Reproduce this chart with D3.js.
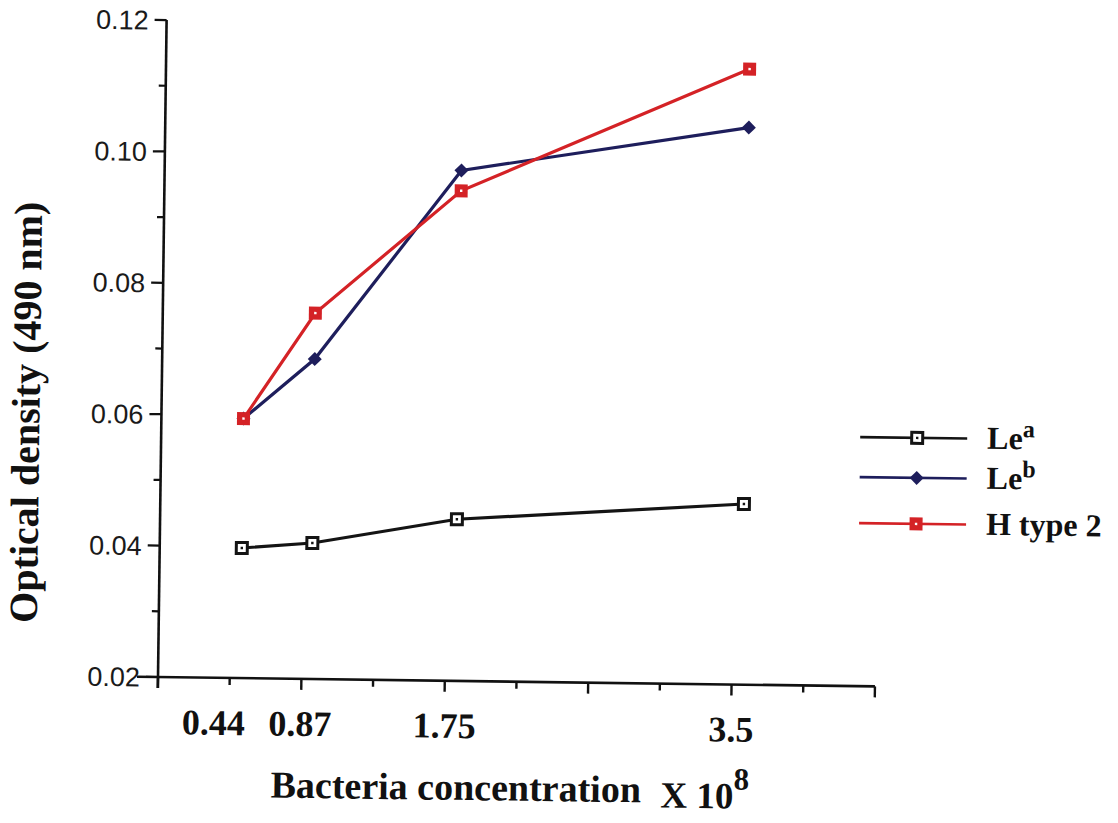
<!DOCTYPE html>
<html>
<head>
<meta charset="utf-8">
<script src="https://cdn.jsdelivr.net/npm/d3@7/dist/d3.min.js"></script>
<style>
  html, body { margin: 0; padding: 0; background: #ffffff; }
  svg { display: block; }
  .serif { font-family: "Liberation Serif", "Times New Roman", serif; font-weight: bold; fill: #111; }
  .sans { font-family: "Liberation Sans", Arial, sans-serif; fill: #1a1a1a; }
</style>
</head>
<body>
<svg id="chart" width="1118" height="823"></svg>
<script>
// Bacterial concentration (x 10^8) and optical density readings at 490 nm
const concentrations = [0.44, 0.87, 1.75, 3.5];
const concentrationLabels = ["0.44", "0.87", "1.75", "3.5"];
const leA = [0.0398, 0.0407, 0.0446, 0.0475];
const leB = [0.0595, 0.0687, 0.0977, 0.1048];
const hType2 = [0.0595, 0.0757, 0.0946, 0.1137];
const yTickValues = [0.02, 0.04, 0.06, 0.08, 0.10, 0.12];
const yTickLabels = ["0.02", "0.04", "0.06", "0.08", "0.10", "0.12"];
const seriesNames = ["Le", "Le", "H type 2"];
const seriesSup = ["a", "b", ""];

const svg = d3.select("#chart");
const origin = { x: 158, y: 677 };

// whole plate sits at a slight tilt
const g = svg.append("g").attr("transform", `rotate(0.75, ${origin.x}, ${origin.y})`);

const x = d3.scaleLinear().domain([0, 4.375]).range([168, 885]);
const y = d3.scaleLinear().domain([0.02, 0.12]).range([origin.y, 20]);

const xStep = 4.375 / 10;
const xTicks = d3.range(0, 11).map(k => k * xStep);

// ---- x axis ruler (ticks run a little left of the plotted columns)
const rulerShift = -10;
const xAxisG = g.append("g").attr("transform", `translate(${rulerShift},${origin.y})`);
xAxisG.append("line")
  .attr("x1", x(0) - 21).attr("x2", x(4.375))
  .attr("y1", 0).attr("y2", 0)
  .attr("stroke", "#111").attr("stroke-width", 2.6);
xAxisG.selectAll("line.xt").data(xTicks).join("line")
  .attr("class", "xt")
  .attr("x1", d => x(d)).attr("x2", d => x(d))
  .attr("y1", 0).attr("y2", (d, i) => i % 2 === 0 ? 11 : 7)
  .attr("stroke", "#111").attr("stroke-width", 2.4);
xAxisG.selectAll("text.xl").data(concentrations).join("text")
  .attr("class", "xl serif")
  .attr("x", d => x(d))
  .attr("dx", (d, i) => i === 0 ? -16 : 0)
  .attr("y", 57)
  .attr("text-anchor", "middle")
  .style("font-size", "36px")
  .text((d, i) => concentrationLabels[i]);

// ---- y axis
const yAxisG = g.append("g").attr("transform", `translate(${origin.x},0)`);
yAxisG.append("line")
  .attr("x1", 0).attr("x2", 0)
  .attr("y1", y(0.12)).attr("y2", origin.y + 11)
  .attr("stroke", "#111").attr("stroke-width", 2.6);
const yMinor = d3.range(0.03, 0.12, 0.02);
yAxisG.selectAll("line.ym").data(yMinor).join("line")
  .attr("class", "ym")
  .attr("x1", -7).attr("x2", 0)
  .attr("y1", d => y(d)).attr("y2", d => y(d))
  .attr("stroke", "#111").attr("stroke-width", 2.2);
yAxisG.selectAll("line.yM").data(yTickValues).join("line")
  .attr("class", "yM")
  .attr("x1", -12).attr("x2", 0)
  .attr("y1", d => y(d)).attr("y2", d => y(d))
  .attr("stroke", "#111").attr("stroke-width", 2.2);
yAxisG.selectAll("text.yl").data(yTickValues).join("text")
  .attr("class", "yl sans")
  .attr("x", -18)
  .attr("y", d => y(d))
  .attr("dy", "0.36em")
  .attr("text-anchor", "end")
  .style("font-size", "27px")
  .text((d, i) => yTickLabels[i]);

// ---- axis titles
g.append("text")
  .attr("class", "serif")
  .attr("transform", "translate(36,414) rotate(-90)")
  .attr("text-anchor", "middle")
  .style("font-size", "40px")
  .text("Optical density (490 nm)");

g.append("text")
  .attr("class", "serif")
  .attr("x", 272).attr("y", 796)
  .style("font-size", "38px")
  .text("Bacteria concentration");

const xPow = g.append("text")
  .attr("class", "serif")
  .attr("x", 662).attr("y", 801)
  .style("font-size", "37px");
xPow.append("tspan").text("X 10");
xPow.append("tspan").attr("dy", -19).style("font-size", "31px").text("8");

// ---- series
const series = [
  { values: leA, color: "#141414", marker: "openSquare" },
  { values: leB, color: "#1e1e5c", marker: "diamond" },
  { values: hType2, color: "#d42226", marker: "redSquare" }
];

const line = d3.line().x(d => x(d[0])).y(d => y(d[1]));

function drawMarker(sel, type, color) {
  if (type === "openSquare") {
    sel.append("rect").attr("x", -5.5).attr("y", -5.5).attr("width", 11).attr("height", 11)
      .attr("fill", "#fff").attr("stroke", color).attr("stroke-width", 3);
    sel.append("rect").attr("x", -1.2).attr("y", -1.2).attr("width", 2.4).attr("height", 2.4)
      .attr("fill", color);
  } else if (type === "diamond") {
    sel.append("path").attr("d", "M0,-7L7,0L0,7L-7,0Z").attr("fill", color);
  } else {
    sel.append("rect").attr("x", -6.5).attr("y", -6.5).attr("width", 13).attr("height", 13)
      .attr("fill", color);
    sel.append("rect").attr("x", -1.2).attr("y", -1.2).attr("width", 2.4).attr("height", 2.4)
      .attr("fill", "#fff");
  }
}

const plot = g.append("g");
series.forEach(s => {
  const pts = concentrations.map((c, i) => [c, s.values[i]]);
  plot.append("path").datum(pts)
    .attr("d", line)
    .attr("fill", "none")
    .attr("stroke", s.color)
    .attr("stroke-width", 3.2);
  plot.append("g").selectAll("g").data(pts).join("g")
    .attr("transform", d => `translate(${x(d[0])},${y(d[1])})`)
    .each(function () { drawMarker(d3.select(this), s.marker, s.color); });
});

// ---- legend
const legendRows = [428, 468, 514];
const legend = g.append("g");
series.forEach((s, i) => {
  const row = legend.append("g").attr("transform", `translate(0,${legendRows[i]})`);
  row.append("line").attr("x1", 857).attr("x2", 964).attr("y1", 0).attr("y2", 0)
    .attr("stroke", s.color).attr("stroke-width", 2.6);
  const m = row.append("g").attr("transform", "translate(914,0)");
  drawMarker(m, s.marker, s.color);
  const t = row.append("text").attr("class", "serif")
    .attr("x", 984).attr("y", 10)
    .style("font-size", "32px");
  t.append("tspan").text(seriesNames[i]);
  if (seriesSup[i]) {
    t.append("tspan").attr("dy", -12).style("font-size", "24px").text(seriesSup[i]);
  }
});
</script>
</body>
</html>
